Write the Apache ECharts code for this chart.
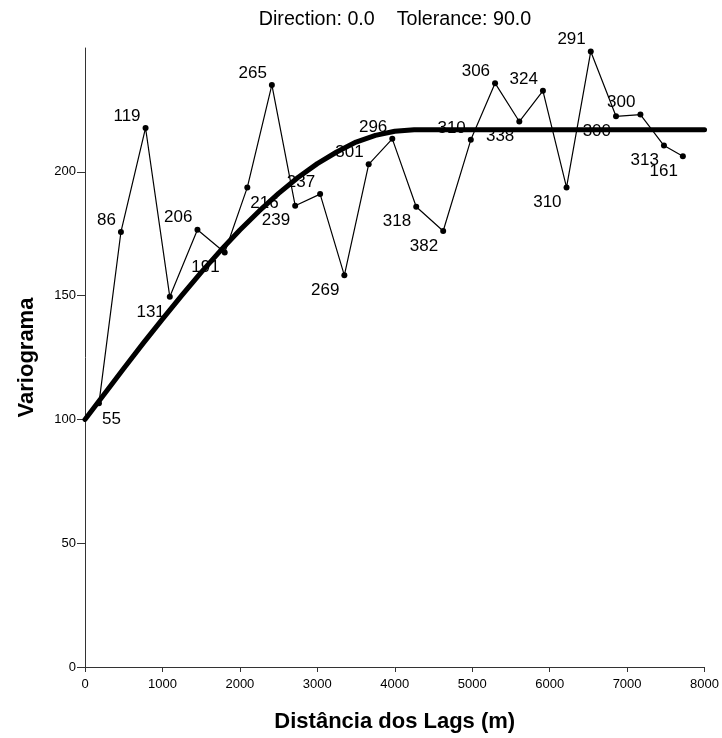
<!DOCTYPE html>
<html>
<head>
<meta charset="utf-8">
<script src="https://cdn.jsdelivr.net/npm/echarts@6/dist/echarts.min.js"></script>
<style>
html,body{margin:0;padding:0;background:#fff;}
#chart{width:722px;height:738px;}
</style>
</head>
<body>
<div id="chart"></div>
<script>
// Experimental variogram: lag distance (m), variogram value, number of pairs (label)
const lagDistance = [180, 464, 782, 1095, 1452, 1804, 2096, 2413, 2714, 3036, 3349, 3663, 3968, 4277, 4625, 4982, 5295, 5608, 5913, 6218, 6531, 6857, 7172, 7476, 7720];
const variogramValue = [106.5, 175.7, 217.7, 149.5, 176.6, 167.4, 193.7, 235.1, 186.3, 191.0, 158.2, 203.0, 213.3, 185.9, 176.1, 212.9, 235.8, 220.3, 232.7, 193.7, 248.6, 222.4, 223.1, 210.6, 206.3];
const pairCounts = [55, 86, 119, 131, 206, 191, 216, 265, 239, 237, 269, 301, 296, 318, 382, 310, 306, 338, 324, 310, 291, 300, 300, 313, 161];

// Model curve, values
const modelDistance = [0, 250, 500, 750, 1000, 1250, 1500, 1750, 2000, 2250, 2500, 2750, 3000, 3250, 3500, 3750, 4000, 4250, 5000, 6000, 7000, 8000];
const modelValue = [100, 110.3, 120.6, 130.7, 140.5, 150.1, 159.4, 168.2, 176.5, 184.2, 191.3, 197.7, 203.3, 208.0, 212.0, 214.7, 216.4, 217, 217, 217, 217, 217];

const xTicks = [0, 1000, 2000, 3000, 4000, 5000, 6000, 7000, 8000];
const yTicks = [0, 50, 100, 150, 200];

// label placement (presentation only): la = left-above, lb = left-below, rb = right-below
const labelSide = ['rb','la','la','lb','la','lb','rb','la','lb','la','lb','la','la','lb','lb','la','la','lb','la','lb','la','lb','la','lb','lb'];

const FONT = '"Liberation Sans", Arial, sans-serif';

const expData = lagDistance.map((x, i) => {
  const side = labelSide[i];
  let lab;
  if (side === 'rb') lab = { position: [6, 19], align: 'left', verticalAlign: 'middle' };
  else if (side === 'la') lab = { position: [-2, -9], align: 'right', verticalAlign: 'middle' };
  else lab = { position: [-2, 18], align: 'right', verticalAlign: 'middle' };
  return { value: [x, variogramValue[i]], label: Object.assign({ show: true, formatter: String(pairCounts[i]) }, lab) };
});

const chart = echarts.init(document.getElementById('chart'), null, { renderer: 'canvas' });
chart.setOption({
  backgroundColor: '#ffffff',
  animation: false,
  title: {
    text: 'Direction: 0.0    Tolerance: 90.0',
    left: 390, top: 5, textAlign: 'center',
    textStyle: { fontFamily: FONT, fontSize: 19.7, fontWeight: 'normal', color: '#000' }
  },
  grid: { left: 85, right: 16, top: 48, bottom: 67, containLabel: false },
  xAxis: {
    type: 'value', min: 0, max: 8000, interval: 1000,
    name: 'Distância dos Lags (m)', nameLocation: 'middle', nameGap: 44,
    nameTextStyle: { fontFamily: FONT, fontSize: 22, fontWeight: 'bold', color: '#000' },
    axisLine: { show: true, lineStyle: { color: '#333', width: 1 } },
    axisTick: { show: true, length: 5, lineStyle: { color: '#333' }, customValues: xTicks },
    axisLabel: { fontFamily: FONT, fontSize: 13, color: '#000', margin: 11, customValues: xTicks, formatter: v => String(v) },
    splitLine: { show: false }
  },
  yAxis: {
    type: 'value', min: 0, max: 250, interval: 50,
    name: 'Variograma', nameLocation: 'middle', nameGap: 47, nameRotate: 90,
    nameTextStyle: { fontFamily: FONT, fontSize: 22, fontWeight: 'bold', color: '#000' },
    axisLine: { show: true, lineStyle: { color: '#333', width: 1 } },
    axisTick: { show: true, length: 8, lineStyle: { color: '#333' }, customValues: yTicks },
    axisLabel: { fontFamily: FONT, fontSize: 13, color: '#000', margin: 9, customValues: yTicks, formatter: v => String(v) },
    splitLine: { show: false }
  },
  series: [
    {
      type: 'line', z: 2,
      data: expData,
      symbol: 'circle', symbolSize: 6,
      itemStyle: { color: '#000' },
      lineStyle: { color: '#000', width: 1.2 },
      label: { fontFamily: FONT, fontSize: 17, color: '#000' },
      labelLayout: { hideOverlap: false },
      emphasis: { disabled: true }
    },
    {
      type: 'line', z: 5,
      data: modelDistance.map((x, i) => [x, modelValue[i]]),
      showSymbol: false, smooth: false,
      lineStyle: { color: '#000', width: 5, join: 'round', cap: 'round' },
      emphasis: { disabled: true }
    }
  ]
});
</script>
</body>
</html>
